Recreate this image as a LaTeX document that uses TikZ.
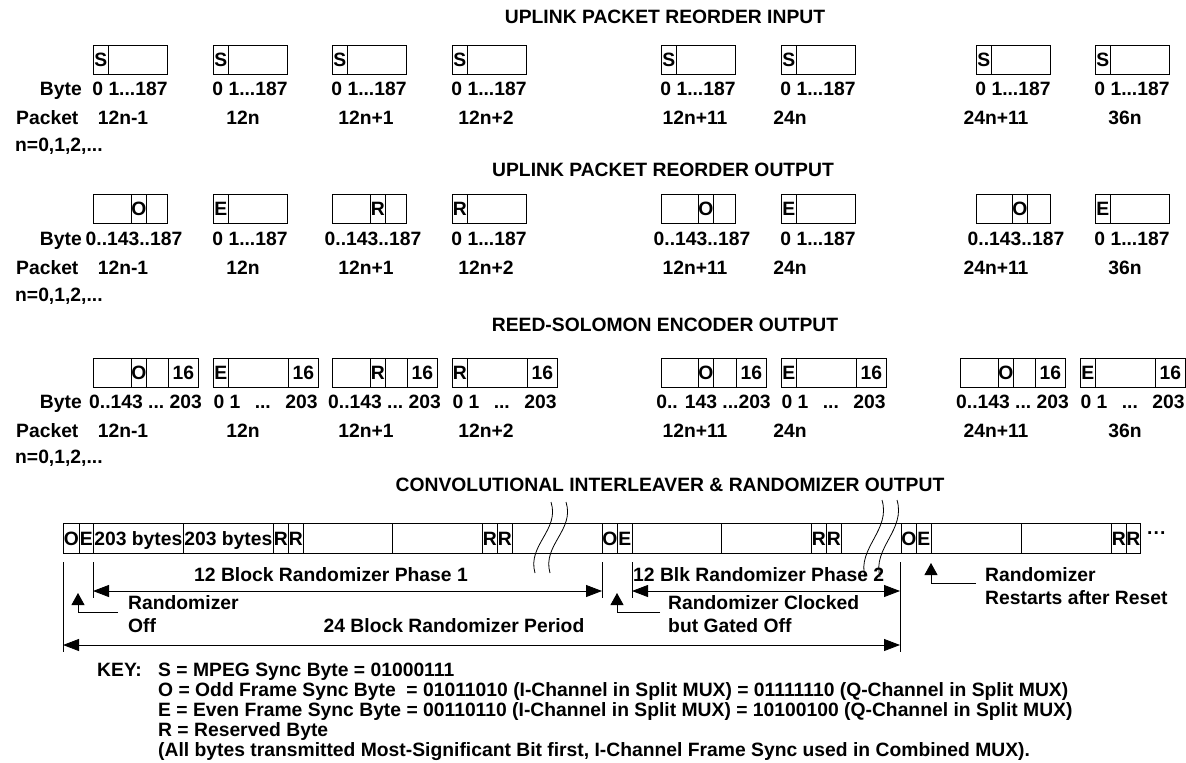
\documentclass[tikz,border=0pt]{standalone}
\usepackage{fontspec}
\setmainfont{Liberation Sans}
\usetikzlibrary{arrows.meta,positioning,calc}
\newcommand{\bytedots}{...}

\begin{document}
\begin{tikzpicture}[x=1pt,y=-1pt,
  every node/.style={font=\fontsize{19.3}{22}\selectfont\bfseries,inner sep=0pt,
                     text height=13.8pt,text depth=0pt},
  cell/.style={draw,line width=0.8pt,anchor=north west,minimum height=29pt},
  scell/.style={draw,line width=0.8pt,anchor=north west,minimum height=30pt},
  tick/.style={line width=0.8pt},
  brk/.style={line width=0.8pt},
  dim/.style={line width=0.8pt,{Triangle[length=16pt,width=12pt]}-{Triangle[length=16pt,width=12pt]}},
  callout/.style={line width=0.8pt,-{Triangle[length=12pt,width=13pt]}}
]
  \useasboundingbox (0,0) rectangle (1186,763);

  % Titles
  \node (t1) at (665,17)  {UPLINK PACKET REORDER INPUT};
  \node (t2) at (663,170) {UPLINK PACKET REORDER OUTPUT};
  \node (t3) at (665,325) {REED-SOLOMON ENCODER OUTPUT};
  \node (t4) at (670,485) {CONVOLUTIONAL INTERLEAVER \& RANDOMIZER OUTPUT};

  % Row labels
  \foreach \by/\py/\ny [count=\r] in {89/118/145,239/268/295,402/431/457} {
    \node[anchor=east] (byte\r) at (82,\by) {Byte};
    \node[anchor=west] (pkt\r)  at (16,\py) {Packet};
    \node[anchor=west] (nrow\r) at (15,\ny) {n=0,1,2,\bytedots};
  }

  % Packet numbers
  \foreach \py [count=\r] in {118,268,431}
    \foreach \px/\pl [count=\i] in {123/12n-1,243/12n,366/12n+1,486/12n+2,
                                    695/12n+11,790/24n,996/24n+11,1125/36n}
      \node (pk\r-\i) at (\px,\py) {\pl};

  % Reorder input
  \foreach \x [count=\i] in {93,213,332,452,661,781,976,1095} {
    \node[cell,minimum width=74pt] (in\i)  at (\x,45) {};
    \node[cell,minimum width=15pt] (ins\i) at (\x,45) {S};
    \node (inb\i) at (\x+37,89) {0 1\bytedots187};
  }

  % Reorder output
  \foreach \x/\t/\o/\c/\lab [count=\i] in {93/O/38/41/0..143..187,213/E/0/37/0 1\bytedots187,
      332/R/38/41/0..143..187,452/R/0/37/0 1\bytedots187,661/O/37/41/0..143..187,
      781/E/0/37/0 1\bytedots187,976/O/36/40/0..143..187,1095/E/0/37/0 1\bytedots187} {
    \node[cell,minimum width=74pt] (out\i)  at (\x,194) {};
    \node[cell,minimum width=15pt] (outl\i) at (\x+\o,194) {\t};
    \node (outb\i) at (\x+\c,239) {\lab};
  }

  % Reed-Solomon output
  \foreach \x/\t/\o/\lab [count=\i] in {
      93/O/38/{0..143 \bytedots\ 203},
      213/E/0/{\makebox[104pt]{0 1\hfill\bytedots\hfill203}},
      332/R/38/{0..143 \bytedots\ 203},
      452/R/0/{\makebox[104pt]{0 1\hfill\bytedots\hfill203}},
      661/O/37/{0.. 143 \bytedots203},
      781/E/0/{\makebox[104pt]{0 1\hfill\bytedots\hfill203}},
      960/O/38/{0..143 \bytedots\ 203},
      1080/E/0/{\makebox[104pt]{0 1\hfill\bytedots\hfill203}}} {
    \node[cell,minimum width=105pt] (rs\i)  at (\x,358) {};
    \node[cell,minimum width=15pt]  (rsl\i) at (\x+\o,358) {\t};
    \node[cell,minimum width=30pt]  (rsp\i) at (\x+75,358) {16};
    \node (rsb\i) at (\x+52.5,402) {\lab};
  }

  % Interleaver stream
  \foreach \x/\w/\t [count=\i] in {63/16/O,79/14/E,93/90/203 bytes,183/90/203 bytes,
      273/15/R,288/15/R,303/89/{},392/90/{},482/15/R,497/15/R,512/90/{},
      602/15/O,617/15/E,632/89/{},721/90/{},811/15/R,826/15/R,841/60/{},
      901/15/O,916/15/E,931/90/{},1021/90/{},1111/15/R,1126/14/R}
    \node[scell,minimum width=\w pt] (c\i) at (\x,523) {\t};
  \node[anchor=west] (more) at (1147,533) {···};

  % Breaks
  \draw[brk] (551,502) .. controls (560,530) and (527,545) .. (535,573);
  \draw[brk] (566,502) .. controls (575,530) and (542,545) .. (550,573);
  \draw[brk] (882,500) .. controls (891,530) and (857,548) .. (865,577);
  \draw[brk] (897,500) .. controls (906,530) and (872,548) .. (880,577);

  % Extent ticks
  \foreach \x/\yb in {63/652,93/598,602/598,632/598,900/652}
    \draw[tick] (\x,562) -- (\x,\yb);

  % Phase and period arrows
  \coordinate (p1a) at (93,591);  \coordinate (p1b) at (602,591);
  \coordinate (p2a) at (632,591); \coordinate (p2b) at (900,591);
  \coordinate (pra) at (63,645);  \coordinate (prb) at (900,645);
  \draw[dim] (p1a) -- (p1b);
  \draw[dim] (p2a) -- (p2b);
  \draw[dim] (pra) -- (prb);
  \node (ph1) at (331,575) {12 Block Randomizer Phase 1};
  \node[anchor=west] (ph2) at (633,575) {12 Blk Randomizer Phase 2};
  \node (per) at (454,626) {24 Block Randomizer Period};

  % Callouts
  \node[anchor=west] (off1) at (128,603) {Randomizer};
  \node[anchor=west] (off2) at (128,626) {Off};
  \coordinate (offk) at (118,612); \coordinate (offt) at (78,593);
  \draw[callout] (offk) -| (offt);

  \node[anchor=west] (clk1) at (668,603) {Randomizer Clocked};
  \node[anchor=west] (clk2) at (668,626) {but Gated Off};
  \coordinate (clkk) at (660,612); \coordinate (clkt) at (617,593);
  \draw[callout] (clkk) -| (clkt);

  \node[anchor=west] (rst1) at (985,575) {Randomizer};
  \node[anchor=west] (rst2) at (985,598) {Restarts after Reset};
  \coordinate (rstk) at (976,583); \coordinate (rstt) at (931,563);
  \draw[callout] (rstk) -| (rstt);

  % Key
  \node[anchor=west] (key)  at (97,670)  {KEY:};
  \node[anchor=west] (keys) at (158,670) {S = MPEG Sync Byte = 01000111};
  \node[anchor=west] (keyo) at (158,690) {O = Odd Frame Sync Byte\ \ = 01011010 (I-Channel in Split MUX) = 01111110 (Q-Channel in Split MUX)};
  \node[anchor=west] (keye) at (158,710) {E = Even Frame Sync Byte = 00110110 (I-Channel in Split MUX) = 10100100 (Q-Channel in Split MUX)};
  \node[anchor=west] (keyr) at (158,730) {R = Reserved Byte};
  \node[anchor=west] (keyn) at (158,750) {(All bytes transmitted Most-Significant Bit first, I-Channel Frame Sync used in Combined MUX).};
\end{tikzpicture}
\end{document}
